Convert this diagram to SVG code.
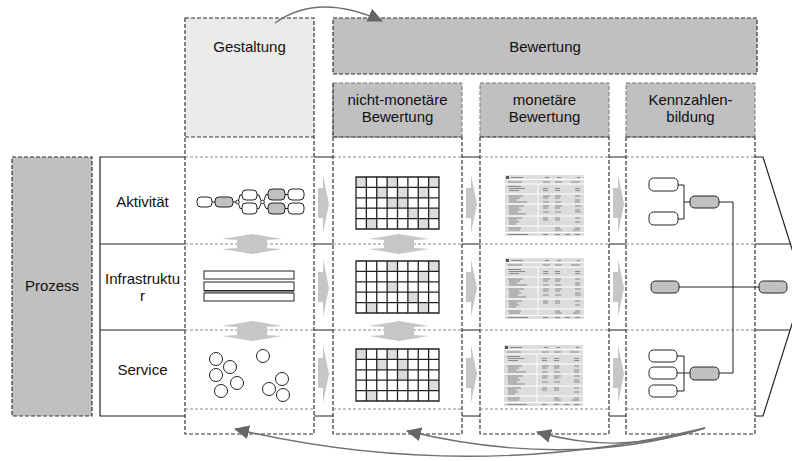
<svg xmlns="http://www.w3.org/2000/svg" width="792" height="461" viewBox="0 0 792 461">
<style>
.t{font-family:"Liberation Sans",Arial,sans-serif;font-size:15px;fill:#111;text-anchor:middle}
.dk{fill:none;stroke:#333;stroke-width:1.2;stroke-dasharray:4 2}
.lt{fill:none;stroke:#8a8a8a;stroke-width:1;stroke-dasharray:3 2}
.sol{fill:none;stroke:#222;stroke-width:1.2}
.ba{fill:#c6c6c6}
.cv{fill:none;stroke:#707070;stroke-width:1.4}
.bx{fill:#fff;stroke:#222;stroke-width:1}
.gb{fill:#c0c0c0;stroke:#222;stroke-width:1}
.ln{fill:none;stroke:#222;stroke-width:1}
.gc{fill:#dcdcdc}
.gl{fill:none;stroke:#222;stroke-width:1.3}
.ci{fill:#fff;stroke:#222;stroke-width:1}
</style>
<defs>
<marker id="ah" markerUnits="userSpaceOnUse" markerWidth="16" markerHeight="14" refX="14" refY="7" orient="auto">
<path d="M0,0 L15,7 L0,14 Z" fill="#666"/>
</marker>
<path id="rarr" d="M0,13 H5 V0 L11,29 L5,58 V43 H0 Z"/>
<path id="udarr" d="M0,-10 L30,-5 L15,-4 V4 L30,5 L0,10 L-30,5 L-15,4 V-4 L-30,-5 Z"/>
<g id="grid">
<path class="gl" d="M0,0 H83 V52 H0 Z M10.375,0 V52 M20.75,0 V52 M31.125,0 V52 M41.5,0 V52 M51.875,0 V52 M62.25,0 V52 M72.625,0 V52 M0,10.4 H83 M0,20.8 H83 M0,31.2 H83 M0,41.6 H83"/>
</g>
<g id="tbl">
<rect width="79" height="61" fill="#dcdcdc"/>
<path d="M0,4.5 H79 M0,9 H79 M0,19 H79 M0,29 H79 M0,41 H79 M0,51 H79 M0,57.5 H79 M33,9 V57.5" stroke="#fff" stroke-width="1" fill="none"/>
<rect x="1" y="1" width="3" height="3" fill="#555"/>
<path d="M6,2.5 h12 M3,7 h14 M3,11.5 h13 M4,13.5 h16 M4,15.5 h10 M3,21 h15 M4,23 h11 M4,25 h8 M4,27 h18 M3,31 h16 M4,33 h10 M4,35 h12 M4,37 h9 M4,39 h17 M3,43 h14 M4,45 h8 M4,47 h10 M4,49 h7 M3,53 h13 M4,55 h11 M3,59.5 h20 M40,2.5 h4 M52,2.5 h4 M72,2.5 h3 M38,7 h7 M50,7 h7 M66,7 h9 M38,13.5 h5 M50,13.5 h5 M70,13.5 h5 M38,15.5 h5 M50,15.5 h5 M70,15.5 h5 M38,21 h7 M50,21 h6 M70,21 h5 M38,23 h5 M50,23 h5 M70,25 h5 M38,27 h6 M50,27 h6 M70,27 h5 M38,31 h6 M50,31 h7 M70,31 h6 M38,33 h5 M50,33 h5 M70,35 h5 M38,37 h6 M50,37 h6 M70,37 h6 M38,43 h5 M50,43 h5 M70,43 h5 M38,45 h5 M50,45 h5 M70,47 h5 M50,53 h5 M70,53 h5 M50,55 h7 M68,55 h7 M38,59.5 h5 M50,59.5 h5 M60,59.5 h5 M70,59.5 h5" stroke="#8a8a8a" stroke-width="1.1" fill="none"/>
</g>
</defs>

<!-- Prozess -->
<g id="prozess">
<rect x="12" y="157" width="80" height="259" class="dk" style="fill:#c0c0c0"/>
<text class="t" x="52" y="291">Prozess</text>
</g>

<!-- Row labels -->
<g id="rows">
<path class="sol" d="M185,157 H100 V416 H185 M100,244 H185 M100,330 H185"/>
<text class="t" x="142.5" y="207">Aktivität</text>
<text class="t" x="142.5" y="284">Infrastruktu</text>
<text class="t" x="142.5" y="301">r</text>
<text class="t" x="142.5" y="375">Service</text>
</g>

<!-- Gestaltung column -->
<g id="gestaltung">
<rect x="185" y="18" width="129" height="119" fill="#ebebeb"/>
<rect x="185" y="18" width="129" height="416" class="dk"/>
<path class="dk" d="M185,137 H314"/>
<text class="t" x="249.5" y="52">Gestaltung</text>
</g>

<!-- Bewertung header -->
<g id="bewertung">
<rect x="333" y="18" width="424" height="56" class="dk" style="fill:#c0c0c0"/>
<text class="t" x="545" y="52">Bewertung</text>
</g>

<!-- nicht-monetäre -->
<g id="nichtmonetaer">
<rect x="333" y="83" width="129" height="54" fill="#c0c0c0" stroke="#777" stroke-width="1" stroke-dasharray="4 2"/>
<path class="dk" d="M333,83 V434 H462 V137 M333,137 H462"/>
<text class="t" x="397.5" y="105">nicht-monetäre</text>
<text class="t" x="397.5" y="122">Bewertung</text>
</g>

<!-- monetäre -->
<g id="monetaer">
<rect x="480" y="83" width="129" height="54" fill="#c0c0c0" stroke="#777" stroke-width="1" stroke-dasharray="4 2"/>
<path class="dk" d="M480,137 V434 H609 V137 M480,137 H609"/>
<text class="t" x="544.5" y="105">monetäre</text>
<text class="t" x="544.5" y="122">Bewertung</text>
</g>

<!-- Kennzahlen -->
<g id="kennzahlen">
<rect x="626" y="83" width="129" height="54" fill="#c0c0c0" stroke="#777" stroke-width="1" stroke-dasharray="4 2"/>
<path class="dk" d="M626,137 V434 H755 V137 M626,137 H755"/>
<text class="t" x="690.5" y="105">Kennzahlen-</text>
<text class="t" x="690.5" y="122">bildung</text>
</g>

<!-- row separators and frame -->
<g id="frame">
<path class="lt" d="M185,157 H314 M185,244 H314 M185,330 H314 M185,409 H314 M333,157 H462 M333,244 H462 M333,330 H462 M333,409 H462 M480,157 H609 M480,244 H609 M480,330 H609 M480,409 H609 M626,157 H755 M626,244 H755 M626,330 H755 M626,409 H755"/>
<path class="sol" d="M314,157 H333 M314,244 H333 M314,330 H333 M314,416 H333 M462,157 H480 M462,244 H480 M462,330 H480 M462,416 H480 M609,157 H626 M609,244 H626 M609,330 H626 M609,416 H626 M755,157 H763 L803.8,286.5 L763,416 H755 M755,244 H790.5 M755,330 H790.5"/>
</g>

<!-- block arrows -->
<g id="blockarrows" class="ba">
<use href="#rarr" x="318" y="175"/><use href="#rarr" x="318" y="259"/><use href="#rarr" x="318" y="345"/>
<use href="#rarr" x="466" y="175"/><use href="#rarr" x="466" y="259"/><use href="#rarr" x="466" y="345"/>
<use href="#rarr" x="613" y="175"/><use href="#rarr" x="613" y="259"/><use href="#rarr" x="613" y="345"/>
<use href="#udarr" x="252" y="244"/><use href="#udarr" x="252" y="331"/>
<use href="#udarr" x="399" y="244"/><use href="#udarr" x="399" y="331"/>
</g>

<!-- Gestaltung content -->
<g id="activity">
<path class="ln" d="M212,202 H215 M233,202 H236 M238.5,200.5 L240,195 H242 M238.5,203.5 L240,208.5 H242 M257,195 H259 L261,200.5 M257,208.5 H259 L261,203.5 M264,200.5 L266,194.5 H268 M264,203.5 L266,208.5 H268 M285,194.5 H288 M285,208.5 H288"/>
<rect class="bx" x="197" y="197" width="15" height="10" rx="4"/>
<rect class="gb" x="215" y="197" width="18" height="10" rx="4"/>
<circle class="ci" cx="237.5" cy="202" r="1.8"/>
<rect class="bx" x="242" y="190" width="15" height="10" rx="4"/>
<rect class="bx" x="242" y="203" width="15" height="11" rx="4"/>
<circle class="ci" cx="262.5" cy="202" r="1.8"/>
<rect class="gb" x="268" y="189" width="17" height="11" rx="4"/>
<rect class="gb" x="268" y="203" width="17" height="11" rx="4"/>
<rect class="bx" x="288" y="189" width="16" height="11" rx="4"/>
<rect class="bx" x="288" y="203" width="16" height="11" rx="4"/>
</g>
<g id="infra">
<rect class="bx" x="204" y="271" width="90" height="8"/>
<rect class="bx" x="204" y="282" width="90" height="8.5"/>
<line x1="204" y1="291.7" x2="294" y2="291.7" stroke="#888" stroke-width="1.5"/>
<rect class="bx" x="204" y="293" width="90" height="8"/>
</g>
<g id="service">
<circle class="ci" cx="216" cy="359" r="6.5"/>
<circle class="ci" cx="230" cy="367" r="6.5"/>
<circle class="ci" cx="216" cy="375" r="6.5"/>
<circle class="ci" cx="237" cy="383" r="6.5"/>
<circle class="ci" cx="221" cy="391" r="6.5"/>
<circle class="ci" cx="263" cy="356" r="6.5"/>
<circle class="ci" cx="282" cy="379" r="6.5"/>
<circle class="ci" cx="269" cy="389" r="6.5"/>
<circle class="ci" cx="283" cy="395" r="6.5"/>
</g>

<!-- grids -->
<g id="grids" class="gc">
<g transform="translate(356,177)">
<rect x="0" y="0" width="10.375" height="10.4"/><rect x="31.125" y="0" width="10.375" height="10.4"/><rect x="72.625" y="0" width="10.375" height="10.4"/>
<rect x="20.75" y="10.4" width="10.375" height="10.4"/><rect x="41.5" y="10.4" width="10.375" height="20.8"/><rect x="62.25" y="10.4" width="10.375" height="10.4"/>
<rect x="31.125" y="20.8" width="10.375" height="10.4"/>
<rect x="51.875" y="31.2" width="10.375" height="10.4"/><rect x="72.625" y="31.2" width="10.375" height="10.4"/>
<rect x="10.375" y="41.6" width="10.375" height="10.4"/><rect x="62.25" y="41.6" width="10.375" height="10.4"/>
<use href="#grid"/>
</g>
<g transform="translate(356,261)">
<rect x="31.125" y="0" width="10.375" height="10.4"/><rect x="72.625" y="0" width="10.375" height="10.4"/>
<rect x="62.25" y="10.4" width="10.375" height="10.4"/>
<rect x="31.125" y="20.8" width="10.375" height="10.4"/>
<rect x="51.875" y="31.2" width="10.375" height="10.4"/>
<rect x="10.375" y="41.6" width="10.375" height="10.4"/><rect x="62.25" y="41.6" width="10.375" height="10.4"/>
<use href="#grid"/>
</g>
<g transform="translate(356,349)">
<rect x="0" y="0" width="10.375" height="10.4"/><rect x="31.125" y="0" width="10.375" height="10.4"/>
<rect x="20.75" y="10.4" width="10.375" height="10.4"/><rect x="41.5" y="10.4" width="10.375" height="20.8"/>
<rect x="72.625" y="31.2" width="10.375" height="10.4"/>
<rect x="10.375" y="41.6" width="10.375" height="10.4"/>
<use href="#grid"/>
</g>
</g>

<!-- tables -->
<g id="tables">
<use href="#tbl" x="505" y="175"/>
<use href="#tbl" x="505" y="258"/>
<use href="#tbl" x="504" y="345"/>
</g>

<!-- Kennzahlen content -->
<g id="kpi">
<path class="ln" d="M678,185 H684 V219 H678 M684,202 H690 M719,202 H733 V373 H719 M677,356 H684 V391 H677 M677,373 H690 M679,287 H759"/>
<rect class="bx" x="649" y="178" width="29" height="13" rx="4.5"/>
<rect class="bx" x="649" y="212" width="29" height="13" rx="4.5"/>
<rect class="gb" x="690" y="196" width="29" height="12" rx="4.5"/>
<rect class="gb" x="651" y="281" width="28" height="12" rx="4.5"/>
<rect class="gb" x="759" y="281" width="28" height="12" rx="4.5"/>
<rect class="bx" x="649" y="350" width="28" height="12" rx="4.5"/>
<rect class="bx" x="649" y="367" width="28" height="12" rx="4.5"/>
<rect class="bx" x="649" y="385" width="28" height="12" rx="4.5"/>
<rect class="gb" x="690" y="367" width="29" height="13" rx="4.5"/>
</g>

<!-- curved connectors -->
<g id="connectors">
<path class="cv" d="M275,23 Q318,-8 382,21" marker-end="url(#ah)"/>
<path class="cv" d="M705,428 Q620,456 537,432" marker-end="url(#ah)"/>
<path class="cv" d="M705,428 Q570,470 407,431" marker-end="url(#ah)"/>
<path class="cv" d="M705,428 Q470,484 235,429" marker-end="url(#ah)"/>
</g>
</svg>
